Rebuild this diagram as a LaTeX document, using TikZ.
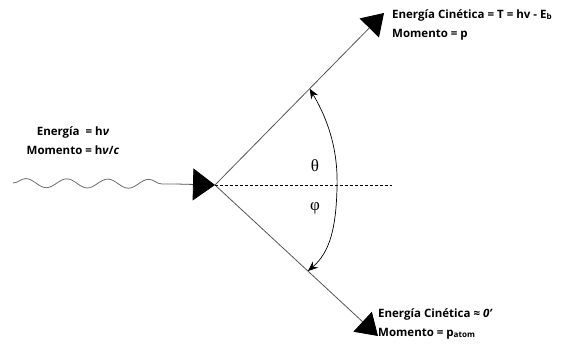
\documentclass[tikz,border=0pt]{standalone}
\usepackage{fontspec}
\setmainfont{Open Sans}
\newfontfamily\anglefont{Liberation Serif}
\usetikzlibrary{arrows.meta,positioning,calc,decorations.pathmorphing}
\definecolor{raygray}{HTML}{555555}
\definecolor{wavegray}{HTML}{6E6E6E}
\tikzset{
  ray/.style={
    draw=raygray,
    line width=0.8pt,
    -{Triangle[length=21pt,width=27pt,black]}
  },
  photon/.style={
    draw=wavegray,
    line width=0.8pt,
    decorate,
    decoration={snake, segment length=41pt, amplitude=4.5pt, post length=4pt}
  },
  guide/.style={draw=black, line width=0.6pt, dash pattern=on 3pt off 2pt},
  anglearc/.style={
    draw=black,
    line width=0.7pt,
    {Stealth[length=10pt,width=8pt]}-{Stealth[length=10pt,width=8pt]}
  },
  lbl/.style={
    font=\bfseries\fontsize{11.5}{19}\selectfont,
    align=left,
    inner sep=0pt
  },
  anglelbl/.style={font=\anglefont\fontsize{17}{17}\selectfont, inner sep=0pt}
}
\begin{document}
\begin{tikzpicture}[x=1pt,y=-1pt]
  \useasboundingbox (0,0) rectangle (578,351);

  \coordinate (o) at (215,185);
  \coordinate (src) at (13,183);
  \coordinate (kink) at (176,184);
  \coordinate (etip) at (384,13);
  \coordinate (atip) at (378,336);
  \coordinate (dashend) at (392,185);

  % incoming photon
  \draw[photon] (src) -- (kink);
  \draw[ray, -{Triangle[length=22pt,width=32pt,black]}] (kink) -- (o);

  % outgoing electron and recoil
  \draw[ray] (o) -- (etip);
  \draw[ray] (o) -- (atip);
  \draw[guide] (o) -- (dashend);

  % angles
  \coordinate (arctop) at ($(o)!0.56!(etip)$);
  \coordinate (arcbot) at ($(o)!0.57!(atip)$);
  \draw[anglearc] (arctop) .. controls (333,128) and (338,160) .. (337,188)
    .. controls (336,228) and (330,252) .. (arcbot);
  \node[anglelbl] (theta) at (315,166) {θ};
  \node[anglelbl] (phi) at (315,208) {φ};

  % labels
  \node[lbl, anchor=north west] (elab) at (392,9)
    {Energía Cinética = T = hv - E\textsubscript{b}\\Momento = p};
  \node[lbl, anchor=north west] (alab) at (378,308)
    {Energía Cinética ≈ \textit{0'}\\Momento = p\textsubscript{atom}};
  \node[lbl, align=center] (plab) at (73,141)
    {Energía \ = h\textit{ν}\\Momento = h\textit{ν}/\textit{c}};
\end{tikzpicture}
\end{document}
